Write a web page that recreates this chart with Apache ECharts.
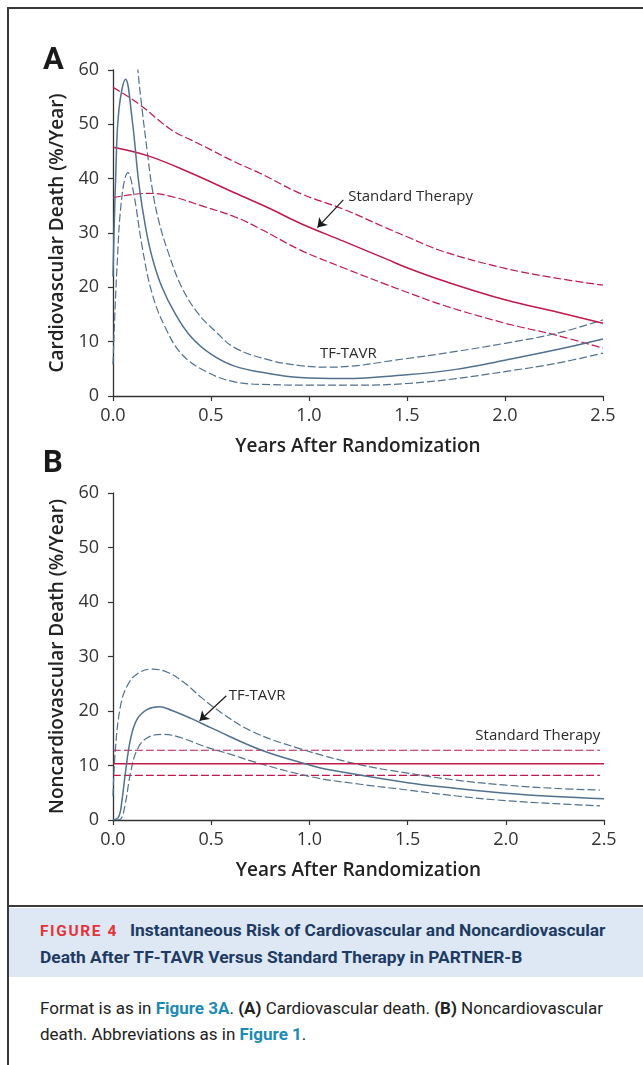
<!DOCTYPE html>
<html>
<head>
<meta charset="utf-8">
<script src="https://cdn.jsdelivr.net/npm/echarts@6.0.0/dist/echarts.min.js"></script>
<style>
  html, body { margin: 0; padding: 0; background: #fff; }
  #page { position: relative; width: 643px; height: 1065px; overflow: hidden; }
  #main { position: absolute; left: 0; top: 0; width: 643px; height: 905px; }
  .rule { position: absolute; background: #3a3a3a; }
  #band { position: absolute; left: 9px; top: 908px; width: 634px; height: 69px; background: #dde8f4; }
  #title { position: absolute; left: 40px; top: 917px; width: 600px; line-height: 26px; white-space: nowrap;
           font-family: "Roboto", sans-serif; font-weight: bold;
           font-size: 17.4px; color: #1d3b63; }
  #title .fig { color: #e2343b; letter-spacing: 1.6px; font-size: 15.5px; margin-right: 12px; }
  #legend { position: absolute; left: 40px; top: 995px; width: 600px; line-height: 26px; white-space: nowrap;
            font-family: "Roboto", sans-serif; font-size: 17px; color: #222; }
  #legend a { color: #1c8ab4; font-weight: bold; text-decoration: none; }
</style>
</head>
<body>
<div id="page">
  <div id="main"></div>
  <div class="rule" style="left:7px; top:7px; width:636px; height:2px;"></div>
  <div class="rule" style="left:7px; top:7px; width:2px; height:1058px;"></div>
  <div class="rule" style="left:7px; top:905px; width:636px; height:2px;"></div>
  <div id="band"></div>
  <div id="title"><span class="fig">FIGURE 4</span>Instantaneous Risk of Cardiovascular and Noncardiovascular<br>Death After TF-TAVR Versus Standard Therapy in PARTNER-B</div>
  <div id="legend">Format is as in <a>Figure 3A</a>. <b>(A)</b> Cardiovascular death. <b>(B)</b> Noncardiovascular<br>death. Abbreviations as in <a>Figure 1</a>.</div>
</div>
<script>
// panel A: cardiovascular death (%/year)
const cvStd = [[0,45.8],[0.18,44.2],[0.4,41],[0.62,37.4],[0.8,34.5],[0.954,31.8],[1.175,28.5],[1.396,25.2],[1.5,23.6],[1.685,21.2],[2.0,17.7],[2.26,15.5],[2.5,13.4]];
const cvStdUpper = [[0,56.8],[0.13,53.8],[0.3,48.9],[0.4,47.1],[0.5,45.3],[0.62,43.1],[0.75,41],[0.954,37.3],[1.175,34.4],[1.396,30.9],[1.5,29.3],[1.685,26.6],[2.0,23.5],[2.26,21.7],[2.5,20.4]];
const cvStdLower = [[0,36.5],[0.18,37.3],[0.3,36.7],[0.47,34.8],[0.62,33.0],[0.75,30.8],[0.954,26.9],[1.175,23.6],[1.396,20.5],[1.5,19.1],[1.685,16.7],[2.0,13.4],[2.26,11.2],[2.5,8.8]];
const cvTavr = [[0,22],[0.0135,40],[0.03,52.6],[0.064,58.3],[0.098,50.8],[0.132,39.1],[0.166,31.1],[0.2,25.5],[0.25,20],[0.318,15.1],[0.4,10.8],[0.5,7.7],[0.62,5.5],[0.8,4.1],[0.954,3.4],[1.175,3.2],[1.5,3.9],[1.75,4.9],[2.0,6.6],[2.26,8.5],[2.5,10.5]];
const cvTavrUpper = [[0.115,67],[0.127,60],[0.149,52.6],[0.174,45.2],[0.199,38.4],[0.233,32.3],[0.284,26.2],[0.351,20],[0.436,15.1],[0.52,12],[0.62,8.9],[0.8,6.6],[0.954,5.6],[1.1,5.3],[1.5,6.9],[1.75,8.2],[2.0,9.7],[2.26,11.5],[2.5,14.0]];
const cvTavrLower = [[0,5.8],[0.022,24.9],[0.047,37.2],[0.076,41.1],[0.106,37.2],[0.149,27.4],[0.2,18.8],[0.267,12.6],[0.351,7.7],[0.47,4.6],[0.62,2.6],[0.8,2.1],[1.0,2.0],[1.25,2.0],[1.5,2.3],[1.75,3.2],[2.0,4.5],[2.26,6.0],[2.5,7.9]];

// panel B: noncardiovascular death (%/year)
const ncStd = [[0,10.3],[2.5,10.3]];
const ncStdUpper = [[0,12.8],[2.48,12.8]];
const ncStdLower = [[0,8.2],[2.48,8.2]];
const ncTavr = [[0,0],[0.029,0.6],[0.046,3.7],[0.063,8.6],[0.089,14.8],[0.123,18.5],[0.175,20.3],[0.235,20.8],[0.3,20.1],[0.4,18.6],[0.5,16.9],[0.75,12.9],[1.0,10.1],[1.1,9.2],[1.5,6.85],[1.75,5.8],[2.0,4.9],[2.25,4.3],[2.5,3.9]];
const ncTavrUpper = [[0,4.4],[0.012,12.9],[0.038,20.9],[0.072,24.6],[0.123,26.8],[0.2,27.7],[0.277,27.1],[0.363,25.2],[0.449,22.5],[0.551,19.7],[0.705,16.3],[0.95,13.1],[1.25,10.2],[1.5,8.6],[1.75,7.3],[2.0,6.4],[2.25,5.8],[2.48,5.5]];
const ncTavrLower = [[0.015,0],[0.04,0.2],[0.063,3.1],[0.089,8.6],[0.123,12.9],[0.175,15.1],[0.26,15.7],[0.346,15.1],[0.466,13.5],[0.603,12],[0.705,10.8],[1.0,8.0],[1.25,6.6],[1.5,5.5],[1.75,4.4],[2.0,3.55],[2.25,3.0],[2.48,2.6]];

const xTicks = [0, 0.5, 1.0, 1.5, 2.0, 2.5];
const yTicks = [0, 10, 20, 30, 40, 50, 60];

const RED = '#bf1a4b';
const BLUE = '#52718f';
const FONT = 'Open Sans';

let chart = echarts.init(document.getElementById('main'), null, { renderer: 'canvas' });

function xAxisFor(idx) {
  return {
    type: 'value', gridIndex: idx, min: xTicks[0], max: xTicks[xTicks.length - 1], interval: 0.5,
    name: 'Years After Randomization', nameLocation: 'middle', nameGap: 41,
    nameTextStyle: { fontFamily: FONT, fontSize: 19, fontWeight: 600, color: '#222' },
    axisLine: { lineStyle: { color: '#333', width: 1.3 } },
    axisTick: { length: 5, lineStyle: { color: '#333', width: 1.2 } },
    axisLabel: { fontFamily: FONT, fontSize: 18, color: '#333', margin: 11, formatter: v => v.toFixed(1) },
    splitLine: { show: false }
  };
}
function yAxisFor(idx, name) {
  return {
    type: 'value', gridIndex: idx, min: yTicks[0], max: yTicks[yTicks.length - 1], interval: 10,
    name: name, nameLocation: 'middle', nameGap: 46,
    nameTextStyle: { fontFamily: FONT, fontSize: 19, fontWeight: 600, color: '#222' },
    axisLine: { show: true, lineStyle: { color: '#333', width: 1.3 } },
    axisTick: { show: true, length: 5, lineStyle: { color: '#333', width: 1.2 } },
    axisLabel: { fontFamily: FONT, fontSize: 18, color: '#333', margin: 14 },
    splitLine: { show: false }
  };
}
function line(data, color, dashed, idx, extra) {
  return Object.assign({
    type: 'line', data: data, xAxisIndex: idx, yAxisIndex: idx,
    showSymbol: false, smooth: 0.4, silent: true, z: dashed ? 2 : 3,
    lineStyle: { color: color, width: dashed ? 1.2 : 1.5, type: dashed ? [8, 3] : 'solid' }
  }, extra || {});
}
function arrow(from, to) {
  return {
    markLine: {
      silent: true, animation: false, symbol: ['none', 'arrow'], symbolSize: 9,
      lineStyle: { color: '#1a1a1a', width: 1.2, type: 'solid' },
      label: { show: false },
      data: [[{ coord: from }, { coord: to }]]
    }
  };
}

let option = {
  animation: false,
  grid: [
    { left: 113, right: 40, top: 70, height: 326 },
    { left: 113, right: 39, top: 493, height: 327 }
  ],
  xAxis: [xAxisFor(0), xAxisFor(1)],
  yAxis: [yAxisFor(0, 'Cardiovascular Death (%/Year)'), yAxisFor(1, 'Noncardiovascular Death (%/Year)')],
  series: [
    line(cvStdUpper, RED, true, 0),
    line(cvStdLower, RED, true, 0),
    line(cvStd, RED, false, 0, arrow([1.175, 36.1], [1.043, 31.0])),
    line(cvTavrUpper, BLUE, true, 0),
    line(cvTavrLower, BLUE, true, 0),
    line(cvTavr, BLUE, false, 0),
    line(ncStdUpper, RED, true, 1),
    line(ncStdLower, RED, true, 1),
    line(ncStd, RED, false, 1),
    line(ncTavrUpper, BLUE, true, 1),
    line(ncTavrLower, BLUE, true, 1),
    line(ncTavr, BLUE, false, 1, arrow([0.577, 22.8], [0.441, 18.2]))
  ]
};
chart.setOption(option);

// annotation texts placed in data space
function noteAt(idx, pt, text) {
  let p = chart.convertToPixel({ gridIndex: idx }, pt);
  return { type: 'text', left: p[0], top: p[1] - 8,
           style: { text: text, fontFamily: FONT, fontSize: 15, fill: '#2a2a2a' } };
}
chart.setOption({
  graphic: [
    { type: 'text', left: 43, top: 46, style: { text: 'A', fontFamily: 'Roboto', fontWeight: 'bold', fontSize: 31, fill: '#1a1a1a' } },
    { type: 'text', left: 43, top: 449, style: { text: 'B', fontFamily: 'Roboto', fontWeight: 'bold', fontSize: 31, fill: '#1a1a1a' } },
    noteAt(0, [1.2, 36.5], 'Standard Therapy'),
    noteAt(0, [1.056, 7.7], 'TF-TAVR'),
    noteAt(1, [0.589, 22.8], 'TF-TAVR'),
    noteAt(1, [1.845, 15.3], 'Standard Therapy')
  ]
});
</script>
</body>
</html>
